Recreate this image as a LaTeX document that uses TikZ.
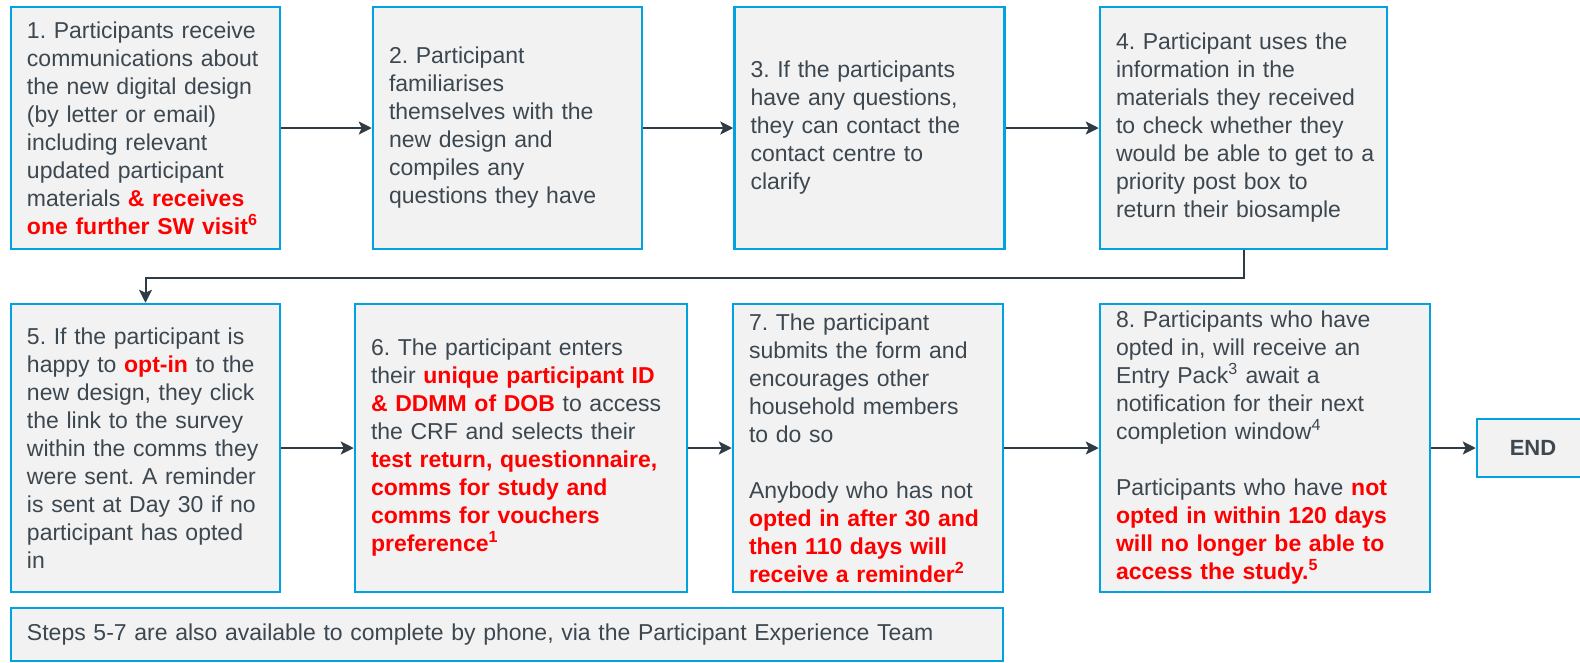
\documentclass[tikz,border=0pt]{standalone}
\usepackage{fontspec}
\setmainfont{Liberation Sans}
\usetikzlibrary{arrows.meta}
\definecolor{boxblue}{RGB}{0,163,224}
\definecolor{boxfill}{RGB}{242,242,242}
\definecolor{txtgrey}{RGB}{60,71,80}
\definecolor{arrowgrey}{RGB}{47,60,70}
\definecolor{hired}{RGB}{255,0,0}
\newcommand{\redbf}[1]{\textcolor{hired}{\textbf{#1}}}
\frenchspacing
\begin{document}
\begin{tikzpicture}[x=1pt,y=-1pt,
    stepbox/.style={draw=boxblue,line width=2.5pt,fill=boxfill,text=txtgrey,align=left,
        inner xsep=16pt,inner ysep=0pt,font=\fontsize{23}{28}\selectfont},
    flow/.style={draw=arrowgrey,line width=2pt,-{Stealth[length=13pt,width=13pt,inset=3pt]}}]
    \useasboundingbox (0,0) rectangle (1580,662);
    % top row
    \node[stepbox,text width=237pt,minimum height=242pt] (s1) at (145.5,128) {1. Participants receive\\ communications about\\ the new digital design\\ (by letter or email)\\ including relevant\\ updated participant\\ materials \redbf{\& receives}\\ \redbf{one further SW visit\textsuperscript{6}}};
    \node[stepbox,text width=237pt,minimum height=242pt] (s2) at (507.5,128) {2. Participant\\ familiarises\\ themselves with the\\ new design and\\ compiles any\\ questions they have};
    \node[stepbox,text width=238pt,minimum height=242pt] (s3) at (869.5,128) {3. If the participants\\ have any questions,\\ they can contact the\\ contact centre to\\ clarify};
    \node[stepbox,text width=255pt,minimum height=242pt] (s4) at (1243.5,128) {4. Participant uses the\\ information in the\\ materials they received\\ to check whether they\\ \mbox{would be able to get to a}\\ priority post box to\\ return their biosample};
    % bottom row
    \node[stepbox,text width=237pt,minimum height=288pt] (s5) at (145.5,448) {5. If the participant is\\ happy to \redbf{opt-in} to the\\ new design, they click\\ the link to the survey\\ within the comms they\\ were sent. A reminder\\ is sent at Day 30 if no\\ participant has opted\\ in};
    \node[stepbox,text width=300pt,minimum height=288pt] (s6) at (521,448) {6. The participant enters\\ their \redbf{unique participant ID}\\ \redbf{\& DDMM of DOB} to access\\ the CRF and selects their\\ \redbf{test return, questionnaire,}\\ \redbf{comms for study and}\\ \redbf{comms for vouchers}\\ \redbf{preference\textsuperscript{1}}};
    \node[stepbox,text width=238pt,minimum height=288pt] (s7) at (868,448) {7. The participant\\ submits the form and\\ encourages other\\ household members\\ to do so\\[28pt] Anybody who has not\\ \redbf{opted in after 30 and}\\ \redbf{then 110 days will}\\ \redbf{receive a reminder\textsuperscript{2}}};
    \node[stepbox,text width=298pt,minimum height=288pt] (s8) at (1265,448) {8. Participants who have\\ opted in, will receive an\\ Entry Pack\textsuperscript{3} await a\\ notification for their next\\ completion window\textsuperscript{4}\\[28pt] Participants who have \redbf{not}\\ \redbf{opted in within 120 days}\\ \redbf{will no longer be able to}\\ \redbf{access the study.\textsuperscript{5}}};
    \node[stepbox,align=center,minimum width=112pt,minimum height=58pt,font=\fontsize{22}{28}\selectfont\bfseries] (end) at (1533,448) {END};
    \node[stepbox,text width=960pt,minimum height=53pt] (phone) at (507,634.5) {Steps 5-7 are also available to complete by phone, via the Participant Experience Team};
    % arrows
    \draw[flow] (s1) -- (s2);
    \draw[flow] (s2) -- (s3);
    \draw[flow] (s3) -- (s4);
    \draw[flow] (s4.south) -- ++(0,28) -| (s5.north);
    \draw[flow] (s5) -- (s6);
    \draw[flow] (s6) -- (s7);
    \draw[flow] (s7) -- (s8);
    \draw[flow] (s8) -- (end);
\end{tikzpicture}
\end{document}
